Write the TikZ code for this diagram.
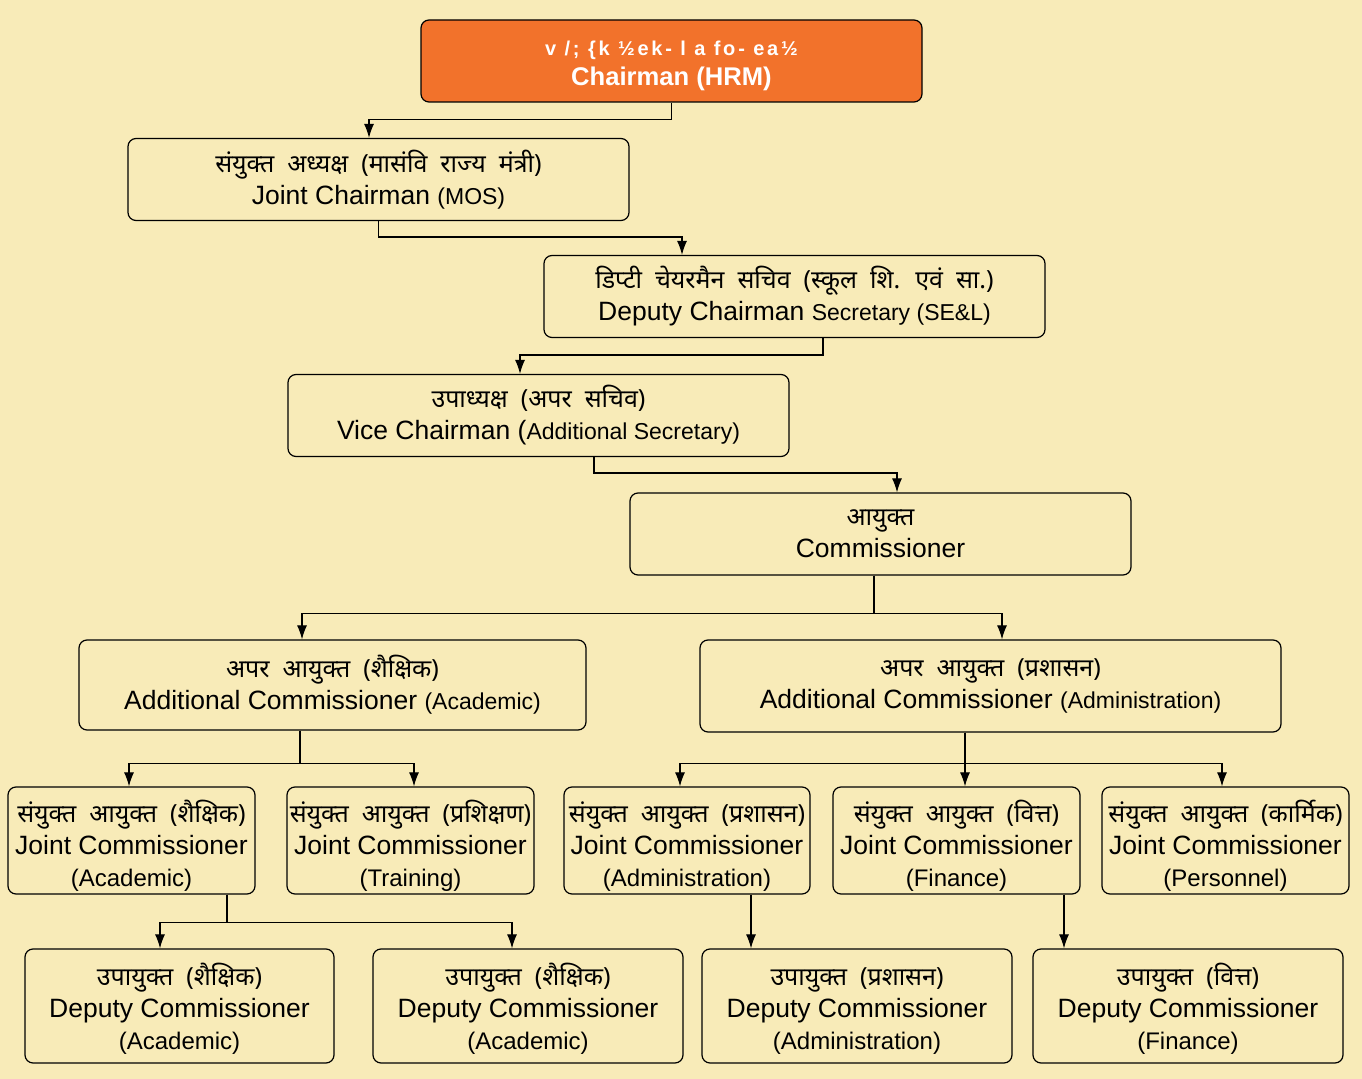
\documentclass[tikz,border=0pt]{standalone}
\usepackage{fontspec}
\setmainfont{Liberation Sans}
\newfontfamily\hindi[Script=Devanagari,WordSpace=2]{Noto Sans}
\usetikzlibrary{arrows.meta}

\definecolor{bgyellow}{HTML}{F8EBB8}
\definecolor{chairorange}{HTML}{F2722B}

\tikzset{
    post/.style={draw, line width=0.6pt, rounded corners=4pt, fill=bgyellow,
        align=center, inner sep=0pt, font=\fontsize{13.25}{16}\selectfont},
    link/.style={line width=0.6pt, -{Latex[length=7pt,width=5pt]}},
}
\newcommand{\sm}[1]{{\fontsize{11.5}{14}\selectfont #1}}
\newcommand{\hin}[1]{{\hindi\fontsize{12.5}{14}\selectfont #1}}
\newcommand{\dept}[1]{{\fontsize{12}{15}\selectfont #1}}

\begin{document}
\begin{tikzpicture}[x=0.5pt,y=-0.5pt]
        % Background
        \fill[bgyellow] (0,0) rectangle (1362,1079);

        % Top levels
        \node[post, fill=chairorange, text=white, minimum width=250.5pt, minimum height=41pt,
            font=\bfseries\fontsize{12.8}{15}\selectfont] (chm) at (671.5,61)
            {\rule{0pt}{12.5pt}{\fontsize{10}{12}\selectfont\addfontfeature{LetterSpace=14}v /; \{k ½ek- l a fo- ea½}\\Chairman (HRM)};
        \node[post, minimum width=250.5pt, minimum height=41pt] (jch) at (378.5,179.5)
            {\hin{संयुक्त अध्यक्ष (मासंवि राज्य मंत्री)}\\Joint Chairman \sm{(MOS)}};
        \node[post, minimum width=250.5pt, minimum height=41pt] (dcs) at (794.5,296.5)
            {\hin{डिप्टी चेयरमैन सचिव (स्कूल शि. एवं सा.)}\\Deputy Chairman \sm{Secretary (SE\&L)}};
        \node[post, minimum width=250.5pt, minimum height=41pt] (vch) at (538.5,415.5)
            {\hin{उपाध्यक्ष (अपर सचिव)}\\Vice Chairman (\sm{Additional Secretary)}};
        \node[post, minimum width=250.5pt, minimum height=41pt] (com) at (880.5,534)
            {\hin{आयुक्त}\\Commissioner};

        % Additional commissioners
        \node[post, minimum width=253.5pt, minimum height=45pt] (aca) at (332.5,685)
            {\hin{अपर आयुक्त (शैक्षिक)}\\Additional Commissioner \sm{(Academic)}};
        \node[post, minimum width=290.5pt, minimum height=46pt] (adm) at (990.5,686)
            {\hin{अपर आयुक्त (प्रशासन)}\\Additional Commissioner \sm{(Administration)}};

        % Joint commissioners
        \node[post, minimum width=123.5pt, minimum height=53.5pt] (jca) at (131.5,840.5)
            {\rule{0pt}{16pt}\hin{संयुक्त आयुक्त (शैक्षिक)}\\Joint Commissioner\\\dept{(Academic)}};
        \node[post, minimum width=123.5pt, minimum height=53.5pt] (jct) at (410.5,840.5)
            {\rule{0pt}{16pt}\hin{संयुक्त आयुक्त (प्रशिक्षण)}\\Joint Commissioner\\\dept{(Training)}};
        \node[post, minimum width=123pt, minimum height=53.5pt] (jcad) at (687,840.5)
            {\rule{0pt}{16pt}\hin{संयुक्त आयुक्त (प्रशासन)}\\Joint Commissioner\\\dept{(Administration)}};
        \node[post, minimum width=123.5pt, minimum height=53.5pt] (jcf) at (956.5,840.5)
            {\rule{0pt}{16pt}\hin{संयुक्त आयुक्त (वित्त)}\\Joint Commissioner\\\dept{(Finance)}};
        \node[post, minimum width=123.5pt, minimum height=53.5pt] (jcp) at (1225.5,840.5)
            {\rule{0pt}{16pt}\hin{संयुक्त आयुक्त (कार्मिक)}\\Joint Commissioner\\\dept{(Personnel)}};

        % Deputy commissioners
        \node[post, minimum width=154.5pt, minimum height=57pt] (dca) at (179.5,1006)
            {\rule{0pt}{14pt}\hin{उपायुक्त (शैक्षिक)}\\Deputy Commissioner\\\dept{(Academic)}};
        \node[post, minimum width=155pt, minimum height=57pt] (dcb) at (528,1006)
            {\rule{0pt}{14pt}\hin{उपायुक्त (शैक्षिक)}\\Deputy Commissioner\\\dept{(Academic)}};
        \node[post, minimum width=155pt, minimum height=57pt] (dcad) at (857,1006)
            {\rule{0pt}{14pt}\hin{उपायुक्त (प्रशासन)}\\Deputy Commissioner\\\dept{(Administration)}};
        \node[post, minimum width=155pt, minimum height=57pt] (dcf) at (1188,1006)
            {\rule{0pt}{14pt}\hin{उपायुक्त (वित्त)}\\Deputy Commissioner\\\dept{(Finance)}};

        % Connectors
        \draw[link] (chm.south) -- ++(0,17) -| ([xshift=-4.75pt]jch.north);
        \draw[link] (jch.south) -- ++(0,16) -| ([xshift=-56.25pt]dcs.north);
        \draw[link] ([xshift=14.25pt]dcs.south) -- ++(0,17) -| ([xshift=-9.25pt]vch.north);
        \draw[link] ([xshift=27.75pt]vch.south) -- ++(0,16) -| ([xshift=8.25pt]com.north);
        \draw[link] ([xshift=-3.25pt]com.south) -- ++(0,38) -| ([xshift=-15.25pt]aca.north);
        \draw[link] ([xshift=-3.25pt]com.south) -- ++(0,38) -| ([xshift=5.75pt]adm.north);
        \draw[link] ([xshift=-16.25pt]aca.south) -- ++(0,33) -| ([xshift=-1.25pt]jca.north);
        \draw[link] ([xshift=-16.25pt]aca.south) -- ++(0,33) -| ([xshift=1.75pt]jct.north);
        \draw[link] ([xshift=-12.75pt]adm.south) -- ++(0,31) -| ([xshift=-3.5pt]jcad.north);
        \draw[link] ([xshift=-12.75pt]adm.south) -- ++(0,31) -| ([xshift=4.25pt]jcf.north);
        \draw[link] ([xshift=-12.75pt]adm.south) -- ++(0,31) -| ([xshift=-1.75pt]jcp.north);
        \draw[link] ([xshift=47.75pt]jca.south) -- ++(0,28) -| ([xshift=-9.75pt]dca.north);
        \draw[link] ([xshift=47.75pt]jca.south) -- ++(0,28) -| ([xshift=-8pt]dcb.north);
        \draw[link] ([xshift=32pt]jcad.south) -- ([xshift=32pt]jcad.south |- dcad.north);
        \draw[link] ([xshift=53.75pt]jcf.south) -- ([xshift=53.75pt]jcf.south |- dcf.north);
    \end{tikzpicture}
\end{document}
